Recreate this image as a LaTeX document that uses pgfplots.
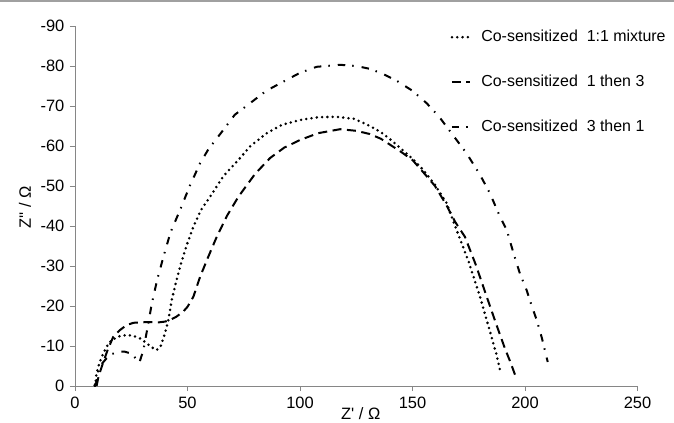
\documentclass[border=0pt]{standalone}
\usepackage{fontspec}
\setmainfont{Liberation Sans}[Ligatures=TeXOff]
\usepackage{pgfplots}
\pgfplotsset{compat=1.18}

\definecolor{axisgray}{RGB}{134,134,134}
\definecolor{framegray}{RGB}{160,160,160}

\begin{document}
\fontsize{16.5}{19}\selectfont
\begin{tikzpicture}
\path[use as bounding box] (-75bp,-37bp) rectangle (599bp,386bp);
\draw[framegray, line width=1.5bp] (-75bp,385.2bp) -- (599bp,385.2bp);
\begin{axis}[
  at={(0,0)}, anchor=south west,
  scale only axis,
  width=562.5bp, height=360bp,
  xmin=0, xmax=250, ymin=-90, ymax=0,
  y dir=reverse,
  xtick={0,50,...,250}, ytick={-90,-80,...,0},
  axis lines=left,
  axis line style={-, axisgray, line width=1bp},
  tick style={axisgray, line width=1bp},
  tick align=outside,
  major tick length=5bp,
  /pgf/number format/assume math mode=true,
  ticklabel style={font=\fontsize{16.5}{19}\selectfont},
  xlabel={Z' / Ω},
  ylabel={Z'' / Ω},
  xlabel style={at={(axis description cs:0.508,-0.092)}, anchor=base},
  ylabel style={at={(axis description cs:-0.089,0.497)}, anchor=center},
  legend style={at={(axis description cs:0.662,1.0)}, anchor=north west,
    draw=none, fill=none, font=\fontsize{16}{19}\selectfont, row sep=27bp},
  legend cell align=left,
  legend image code/.code={\draw[#1] (0bp,0bp) -- (18bp,0bp); \path (26bp,0bp);},
]
\addplot[black, line width=2.8bp, line cap=round, dash pattern=on 0bp off 5.3bp] table {
8.9 0
9.6 -3.2
11 -6
12.6 -8.2
14.5 -10.2
16.3 -11.5
19.5 -12.4
23 -12.75
26 -12.5
28.9 -11.9
31.9 -10.7
34 -9.7
36.3 -9
38 -9.8
40 -13.2
41.5 -16.5
43 -21.5
44.7 -25.5
46.7 -29.8
49.5 -35
52.6 -39.8
56 -44
60 -47.3
66 -52.5
72.6 -56.5
78 -60
85.2 -63.2
92 -65.3
100 -66.5
108 -67.2
116 -67.3
124 -66.8
130 -65.3
135.6 -63.6
140 -61.7
145 -59.3
150 -56.8
154.8 -54
160 -50.3
165.2 -45.7
169.6 -39
175 -31
180 -22.3
184.5 -13.5
187.5 -7.5
188.9 -4
};
\addlegendentry{Co-sensitized\ \ 1:1 mixture}
\addplot[black, line width=2bp, dash pattern=on 9bp off 5.5bp] table {
9.6 0
10.5 -2.5
12.6 -6
14.5 -9
17 -12.3
20 -14
23 -15.25
26 -15.8
28.9 -15.9
33 -16
37 -15.9
40 -16.1
42.2 -16.5
45 -17.3
48.1 -18.6
50 -19.8
52.6 -22.3
55.6 -27.3
59 -32
63 -37.3
67.5 -42.5
72.6 -47.3
80 -53
86.7 -57
93 -59.6
100 -61.5
108 -63.2
117.8 -64.2
125 -63.8
131 -63
136 -61.8
145 -58.5
150 -56.5
155 -53.3
160 -50
165 -45.3
169 -41
173.3 -37.3
178 -30.5
183 -22.3
187.5 -15
191 -9.5
193.5 -6
195.6 -2.75
};
\addlegendentry{Co-sensitized\ \ 1 then 3}
\addplot[black, line width=2bp, dash pattern=on 7.5bp off 7bp on 1.5bp off 8bp] table {
8.5 0
9.6 -1
10.4 -4
12 -5.6
14 -6.9
16.5 -8
19.3 -8.6
22 -8.6
24.4 -8.2
26.5 -7.2
28.6 -5.8
30.4 -9
32.6 -15.7
34.1 -20.5
36.5 -26.5
39.3 -32.3
42.5 -38.5
46.7 -44
51 -50
55.6 -55.7
59.3 -59.2
65.9 -64
71 -67.8
77.8 -70.7
85 -73.8
92.6 -76.1
100 -78.3
107.4 -79.8
117.8 -80.3
125 -80
131 -79.3
137 -78
143 -76.3
150 -73.8
156.3 -70.7
162 -67.2
168 -62.7
174 -58.2
180 -52.8
184.4 -48.2
188.9 -42.3
191.9 -39
195 -33
197.8 -28
200.7 -24
203 -20
205.2 -16.5
207.5 -12
210.1 -6
};
\addlegendentry{Co-sensitized\ \ 3 then 1}
\end{axis}
\end{tikzpicture}
\end{document}
